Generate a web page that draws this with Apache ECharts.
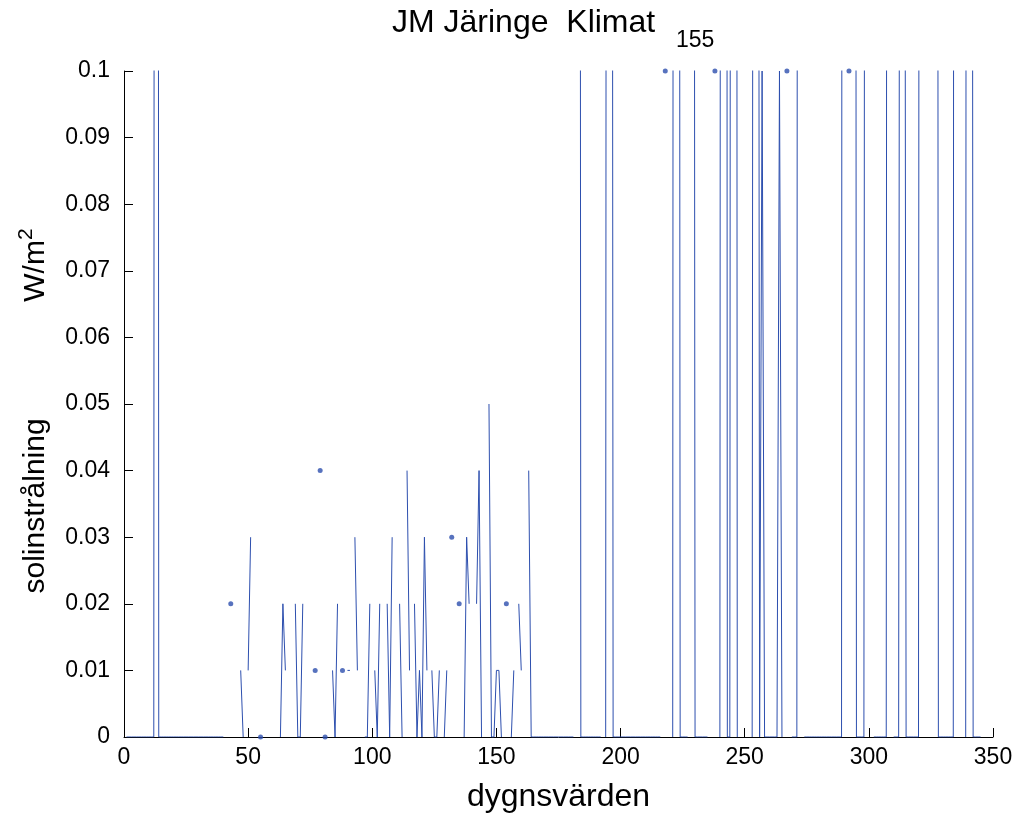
<!DOCTYPE html>
<html><head><meta charset="utf-8">
<script src="https://cdn.jsdelivr.net/npm/echarts@6/dist/echarts.min.js"></script>
<style>html,body{margin:0;padding:0;background:#fff}#c{width:1018px;height:818px}</style>
</head><body><div id="c"></div>
<script>
// ---- data (daily values, null = missing) ----
const firstDay = 1;
const valuesDays001to060 = [
  0,0,0,0,0,0,0,0,0,0,
  0,0,0.9,0,0,0,0,0,0,0,
  0,0,0,0,0,0,0,0,0,0,
  0,0,0,0,0,0,0,0,0,0,
  null,null,0.02,null,null,null,0.01,0,null,0.01,
  0.03,null,null,null,0,null,null,null,null,null
];
const valuesDays061to120 = [
  null,null,0,0.02,0.01,null,null,null,0.02,0,
  0,0.02,null,null,null,null,0.01,null,0.04,null,
  0,null,null,0.01,0,0.02,null,0.01,null,0.01,
  0.01,null,0.03,0.01,null,null,0,0,0.02,null,
  0.01,0,0.02,null,null,0.02,0,0.03,null,null,
  0.02,0,null,0.04,0.01,null,0.02,0,0.01,0
];
const valuesDays121to180 = [
  0.03,0.01,null,0.01,0,0,0.01,null,0,0.01,
  null,0.03,null,null,0.02,null,0,0.03,0.02,null,
  null,0.02,0.04,0,null,null,0.05,0,0,0.01,
  0.01,0,null,0.02,null,0,0.01,null,0.02,0.01,
  null,null,0.04,0,0,0,0,0,0,0,
  0,0,0,0,0,0,0,0,0,0
];
const valuesDays181to240 = [
  0,null,0.6,0,0,0,0,0,0,0,
  0,0,null,0,0.7,0.5,0,0,0,0,
  0,0,0,0,0,0,0,0,0,0,
  0,0,0,0,0,0,null,0.1,null,null,
  0,0.8,0.6,0,0,0,0,null,0.5,0,
  0,0,0,0,0,null,null,0.1,null,0
];
const valuesDays241to300 = [
  0.7,0.9,0,0,0.6,0.8,0,null,null,null,
  null,null,0,0.5,0.4,0,0.1,0,0,0,
  0,0,0,0.1,0,null,0.1,null,0,0,
  0,0.7,null,0,0,0,0,0,0,0,
  0,0,0,0,0,0,0,0,0,0.9,
  null,0.1,null,0.6,0,0,0,0,0.5,null
];
const valuesDays301to345 = [
  null,0,0,0,0,0,0,0.8,null,0,
  0,0,0.4,0.3,0,0,0,0,0,0,
  0.7,null,null,null,null,null,0.6,0,0,0,
  0,0,0,0,0.9,null,null,null,0,0.8,
  0.5,0,0,0,0
];
const xTickLabels = ['0','50','100','150','200','250','300','350'];
const yTickLabels = ['0','0.01','0.02','0.03','0.04','0.05','0.06','0.07','0.08','0.09','0.1'];
const titleMain = 'JM Järinge  Klimat';
const titleSub = '155';
const xName = 'dygnsvärden';
const yNameMain = 'solinstrålning              W/m';
const yNameSup = '2';

// ---- build ----
const values = [].concat(valuesDays001to060, valuesDays061to120, valuesDays121to180,
  valuesDays181to240, valuesDays241to300, valuesDays301to345);
const lineData = values.map((v, i) => [firstDay + i, v]);
const isolated = lineData.filter((p, i) => p[1] !== null &&
  (i === 0 || values[i - 1] === null) && (i === values.length - 1 || values[i + 1] === null));

const FONT = '"Liberation Sans", Arial, Helvetica, sans-serif';
const BLUE = '#2d4fae';
const chart = echarts.init(document.getElementById('c'), null, {renderer: 'canvas'});
chart.setOption({
  animation: false,
  backgroundColor: '#ffffff',
  grid: {left: 124, right: 25, top: 71, bottom: 78, containLabel: false},
  graphic: [
    {type: 'text', x: 392, y: 23, style: {text: titleMain, font: '32px ' + FONT, fill: '#000', align: 'left', verticalAlign: 'middle'}},
    {type: 'text', x: 676, y: 41, style: {text: titleSub, font: '23px ' + FONT, fill: '#000', align: 'left', verticalAlign: 'middle'}}
  ],
  xAxis: {
    type: 'value', min: 0, max: 350, interval: 50,
    axisLine: {show: true, onZero: false, lineStyle: {color: '#000', width: 1}},
    axisTick: {show: true, inside: true, length: 9, lineStyle: {color: '#000'}},
    axisLabel: {fontSize: 23, fontFamily: FONT, color: '#000', margin: 9,
      formatter: v => xTickLabels[Math.round(v / 50)]},
    splitLine: {show: false},
    name: xName, nameLocation: 'middle', nameGap: 44,
    nameTextStyle: {fontSize: 32, fontFamily: FONT, color: '#000'}
  },
  yAxis: {
    type: 'value', min: 0, max: 0.1, interval: 0.01,
    axisLine: {show: true, onZero: false, lineStyle: {color: '#000', width: 1}},
    axisTick: {show: true, inside: true, length: 9, lineStyle: {color: '#000'}},
    axisLabel: {fontSize: 23, fontFamily: FONT, color: '#000', margin: 14,
      formatter: v => yTickLabels[Math.round(v / 0.01)]},
    splitLine: {show: false},
    name: '{a|' + yNameMain + '}{s|' + yNameSup + '}{p|     }',
    nameLocation: 'middle', nameRotate: 90, nameGap: 68,
    nameTextStyle: {
      color: '#000',
      rich: {
        a: {fontSize: 30, fontFamily: FONT, color: '#000', lineHeight: 40},
        s: {fontSize: 21, fontFamily: FONT, color: '#000', lineHeight: 21, verticalAlign: 'top'},
        p: {fontSize: 10, fontFamily: FONT, color: '#000', lineHeight: 40}
      }
    }
  },
  series: [
    {type: 'line', data: lineData, showSymbol: false, connectNulls: false, clip: true,
      lineStyle: {color: BLUE, width: 1}, itemStyle: {color: BLUE}, silent: true, z: 3},
    {type: 'scatter', data: isolated, symbol: 'circle', symbolSize: 5, clip: false,
      itemStyle: {color: BLUE}, silent: true, z: 4}
  ]
});
</script></body></html>
